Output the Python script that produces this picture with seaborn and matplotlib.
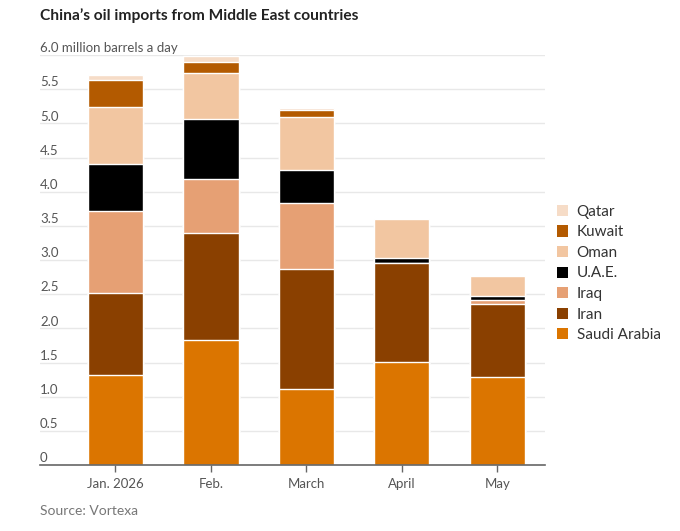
import matplotlib
matplotlib.use("Agg")
import matplotlib.pyplot as plt
from matplotlib.patches import Patch
import numpy as np
import pandas as pd
import seaborn as sns

months = ["Jan. 2026", "Feb.", "March", "April", "May"]
countries = ["Saudi Arabia", "Iran", "Iraq", "U.A.E.", "Oman", "Kuwait", "Qatar"]

# million barrels a day, bottom segment first
saudi = [1.32, 1.83, 1.11, 1.51, 1.29]
iran = [1.19, 1.57, 1.76, 1.44, 1.06]
iraq = [1.21, 0.79, 0.97, 0.00, 0.07]
uae = [0.69, 0.87, 0.47, 0.08, 0.05]
oman = [0.83, 0.67, 0.79, 0.57, 0.30]
kuwait = [0.40, 0.17, 0.09, 0.00, 0.00]
qatar = [0.07, 0.09, 0.04, 0.00, 0.00]

colors = {
    "Saudi Arabia": "#db7500",
    "Iran": "#8a4000",
    "Iraq": "#e6a074",
    "U.A.E.": "#000000",
    "Oman": "#f2c6a1",
    "Kuwait": "#b35a00",
    "Qatar": "#f6dcc7",
}

yticks = [0, 0.5, 1.0, 1.5, 2.0, 2.5, 3.0, 3.5, 4.0, 4.5, 5.0, 5.5, 6.0]
ylabels = ["0", "0.5", "1.0", "1.5", "2.0", "2.5", "3.0", "3.5", "4.0", "4.5",
           "5.0", "5.5", "6.0 million barrels a day"]

series = [saudi, iran, iraq, uae, oman, kuwait, qatar]
stack = np.cumsum(np.array(series), axis=0)

sns.set_theme(style="white")
plt.rcParams["font.family"] = ["Lato", "DejaVu Sans"]

fig = plt.figure(figsize=(6.8, 5.31), dpi=100)
ax = fig.add_axes([40 / 680, 1 - 465 / 531, 505 / 680, 410 / 531])

# gridlines under the bars
for y in yticks[1:]:
    ax.axhline(y, color="#e8e8e8", lw=1, zorder=0)

# draw cumulative totals from the top down so each segment sits on the one below
for i in range(len(countries) - 1, -1, -1):
    df = pd.DataFrame({"month": months, "value": stack[i]})
    sns.barplot(data=df, x="month", y="value", order=months, color=colors[countries[i]],
                width=0.58, edgecolor="white", linewidth=1, saturation=1, ax=ax, zorder=2)

ax.set_xlim(-0.79, 4.5)
ax.set_ylim(0, 6.0)
ax.set_xlabel("")
ax.set_ylabel("")
ax.set_yticks([])
for s in ["top", "right", "left"]:
    ax.spines[s].set_visible(False)
ax.spines["bottom"].set_color("#666666")
ax.spines["bottom"].set_linewidth(1.2)
ax.spines["bottom"].set_zorder(3)

ax.tick_params(axis="x", bottom=True, length=5, width=1, color="#666666", pad=4,
               labelsize=9.5, labelcolor="#555555")

for y, lab in zip(yticks, ylabels):
    ax.text(0.0, y + 0.01, lab, transform=ax.get_yaxis_transform(), ha="left", va="bottom",
            fontsize=9.5, color="#555555")

handles = [Patch(facecolor=colors[c], edgecolor="none") for c in countries[::-1]]
fig.legend(handles, countries[::-1], loc="upper left", bbox_to_anchor=(543 / 680, 1 - 191 / 531),
           frameon=False, fontsize=11, handlelength=0.75, handleheight=0.75,
           handletextpad=0.55, labelspacing=0.43, labelcolor="#333333")

fig.text(40 / 680, 1 - 16 / 531, "China\u2019s oil imports from Middle East countries",
         fontsize=11.2, fontweight="bold", color="#222222", va="center", ha="left")
fig.text(40 / 680, 1 - 511 / 531, "Source: Vortexa", fontsize=10, color="#777777",
         va="center", ha="left")

fig.savefig("out.png", dpi=100)
